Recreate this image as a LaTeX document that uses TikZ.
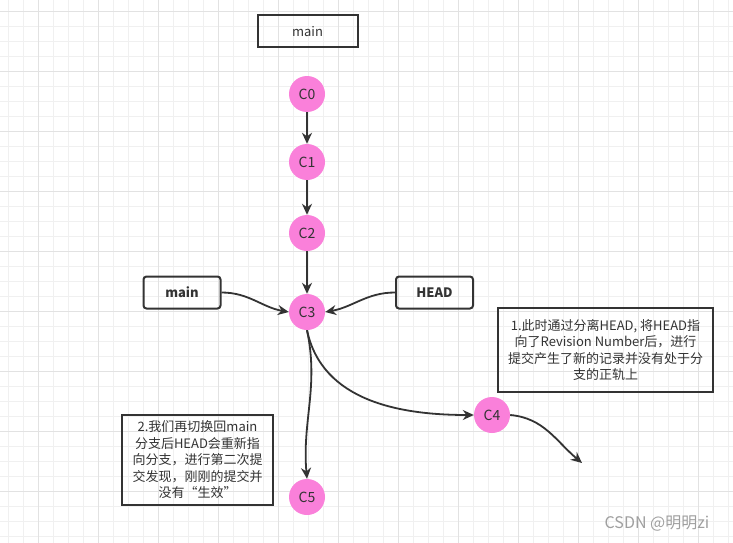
\documentclass[tikz,border=0pt]{standalone}
\usepackage{fontspec}
\newfontfamily\cjk{Noto Sans CJK SC}
\usepackage{xcolor}
\usepackage{tikz}
\usetikzlibrary{arrows.meta,positioning}

\definecolor{commitpink}{HTML}{FA80DA}
\definecolor{inkgray}{HTML}{333333}
\definecolor{gridlight}{HTML}{F0F0F0}
\definecolor{griddark}{HTML}{E2E2E2}

\begin{document}
\begin{tikzpicture}[
  x=1pt, y=-1pt,
  commit/.style={circle, fill=commitpink, minimum size=36pt, inner sep=0pt, text=inkgray, font=\cjk\fontsize{14}{16}\selectfont},
  branch/.style={draw=inkgray, line width=2pt, minimum width=100pt, minimum height=32pt, text=inkgray, font=\cjk\fontsize{13}{15}\selectfont},
  pointer/.style={draw=inkgray, line width=2pt, rounded corners=3pt, minimum width=77pt, minimum height=32pt, text=inkgray, font=\cjk\bfseries\fontsize{13}{15}\selectfont},
  note/.style={draw=inkgray, line width=2pt, align=center, inner sep=0pt, text=inkgray, font=\cjk\fontsize{13}{16.5}\selectfont},
  link/.style={draw=inkgray, line width=1.8pt, -{Stealth[length=11pt,width=10pt]}},
]
\useasboundingbox (0,0) rectangle (733,543);
\fill[white] (0,0) rectangle (733,543);
\foreach \x in {8.3,23.3,...,733} \draw[gridlight, line width=0.8pt] (\x,0) -- (\x,543);
\foreach \y in {11.7,26.7,...,543} \draw[gridlight, line width=0.8pt] (0,\y) -- (733,\y);
\foreach \x in {38.3,98.3,...,733} \draw[griddark, line width=0.8pt] (\x,0) -- (\x,543);
\foreach \y in {11.7,71.7,...,543} \draw[griddark, line width=0.8pt] (0,\y) -- (733,\y);

\node[branch] (topmain) at (307.5,31.5) {main};

\node[commit] (c0) at (307,94) {C0};
\node[commit] (c1) at (307,162) {C1};
\node[commit] (c2) at (307,233) {C2};
\node[commit] (c3) at (307,312) {C3};
\node[commit] (c4) at (492,415) {C4};
\node[commit] (c5) at (307,497) {C5};

\node[pointer] (mainptr) at (182,292.5) {main};
\node[pointer] (headptr) at (434.5,292.5) {HEAD};

\node[note, minimum width=215pt, minimum height=84pt] (note1) at (605.5,350)
  {1.此时通过分离HEAD, 将HEAD指\\向了Revision Number后，进行\\提交产生了新的记录并没有处于分\\支的正轨上};
\node[note, minimum width=151pt, minimum height=90pt] (note2) at (197.5,460)
  {2.我们再切换回main\\分支后HEAD会重新指\\向分支，进行第二次提\\交发现，刚刚的提交并\\没有“生效”};

\coordinate (c4end) at (582,463);

\draw[link] (c0) -- (c1);
\draw[link] (c1) -- (c2);
\draw[link] (c2) -- (c3);
\draw[link] (mainptr.east) to[out=0, in=170] (c3.west);
\draw[link] (headptr.west) to[out=180, in=10] (c3.east);
\draw[link] (c3.south) to[out=-78, in=180] (c4.west);
\draw[link] (c3.south) to[out=-78, in=95] (c5.north);
\draw[link] (c4.east) to[out=-5, in=140] (c4end);

\node[text=gray!75, font=\cjk\fontsize{16}{18}\selectfont] (mark) at (657,524) {CSDN @明明zi};
\end{tikzpicture}
\end{document}
